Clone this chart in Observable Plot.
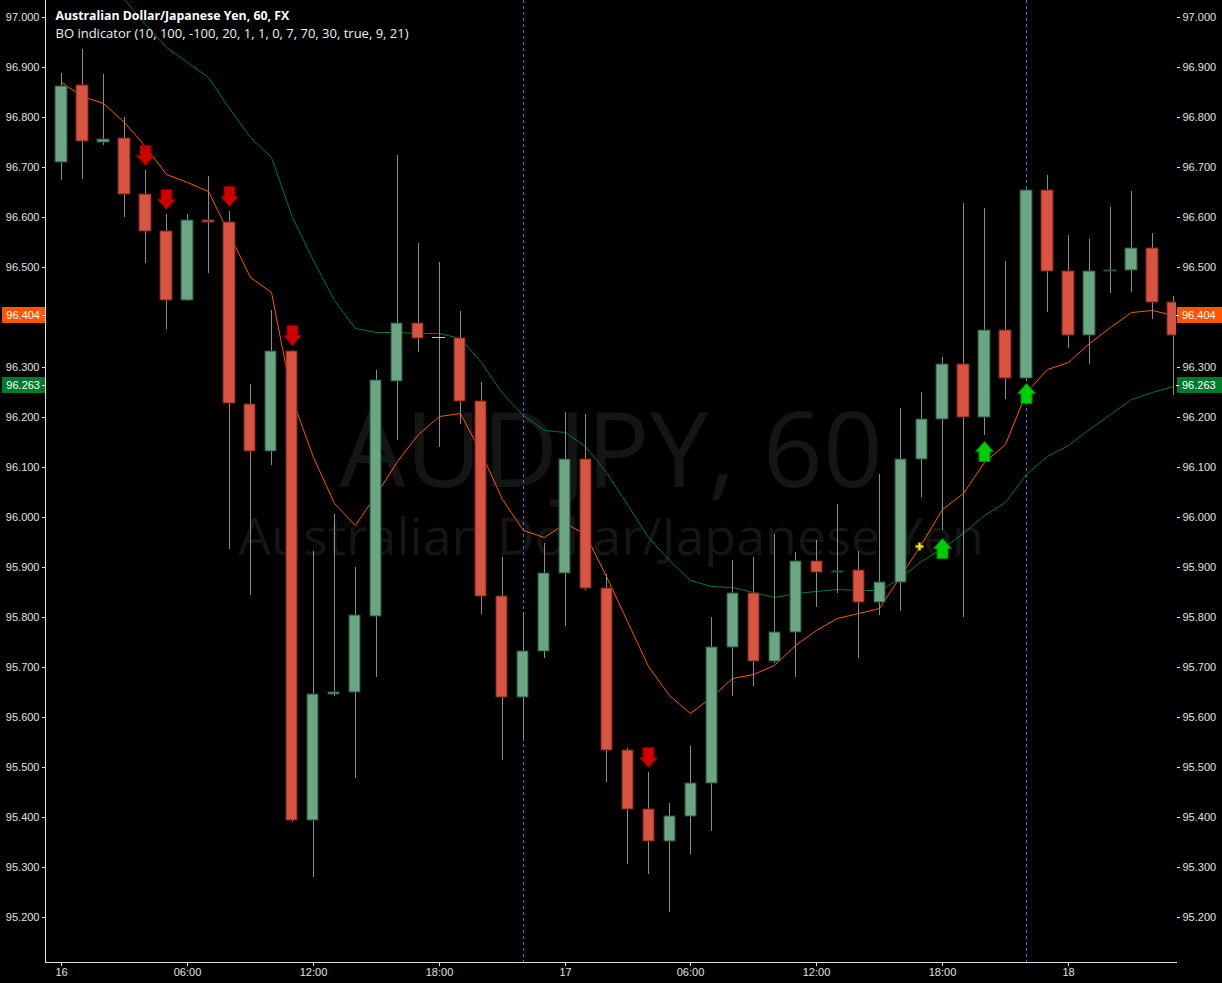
<!DOCTYPE html>
<html><head><meta charset="utf-8">
<script src="https://cdn.jsdelivr.net/npm/d3@7"></script>
<script src="https://cdn.jsdelivr.net/npm/@observablehq/plot@0.6"></script>
<style>
html,body{margin:0;padding:0;background:#000;}
#chart{width:1222px;height:983px;overflow:hidden;}
</style></head><body><div id="chart"></div>
<script>
// ---- data (hourly bars, AUDJPY 60) ----
const openP  = [96.710,96.864,96.750,96.758,96.646,96.572,96.434,96.594,96.590,96.226,96.132,96.332,95.394,95.646,95.651,95.802,96.272,96.388,96.360,96.359,96.232,95.842,95.640,95.732,95.888,96.116,95.858,95.534,95.416,95.352,95.402,95.468,95.740,95.848,95.712,95.770,95.912,95.890,95.894,95.830,95.870,96.116,96.196,96.306,96.200,96.374,96.278,96.654,96.492,96.364,96.492,96.494,96.538,96.430];
const highP  = [96.888,96.936,96.886,96.800,96.694,96.606,96.606,96.682,96.612,96.266,96.414,96.334,95.932,96.006,95.900,96.294,96.724,96.548,96.510,96.412,96.270,95.920,95.810,95.948,96.210,96.206,95.886,95.538,95.490,95.428,95.542,95.800,95.914,95.920,95.966,95.930,95.954,96.026,95.932,96.086,96.218,96.250,96.320,96.628,96.618,96.512,96.656,96.684,96.564,96.556,96.620,96.652,96.568,96.442];
const lowP   = [96.674,96.676,96.744,96.600,96.508,96.376,96.432,96.488,95.936,95.844,96.104,95.390,95.280,95.642,95.478,95.680,96.154,96.330,96.140,96.186,95.806,95.514,95.552,95.718,95.782,95.854,95.470,95.306,95.286,95.210,95.326,95.372,95.642,95.662,95.708,95.680,95.820,95.848,95.718,95.804,95.812,96.040,95.974,95.800,96.164,96.236,96.274,96.410,96.338,96.306,96.448,96.450,96.396,96.244];
const closeP = [96.862,96.752,96.756,96.646,96.572,96.434,96.594,96.590,96.228,96.132,96.332,95.394,95.646,95.651,95.804,96.274,96.388,96.359,96.360,96.232,95.842,95.640,95.732,95.888,96.116,95.858,95.534,95.416,95.352,95.402,95.468,95.740,95.848,95.712,95.770,95.912,95.890,95.893,95.830,95.870,96.116,96.196,96.306,96.200,96.374,96.278,96.654,96.492,96.364,96.492,96.494,96.538,96.430,96.364];
const emaFast = [96.870,96.842,96.828,96.790,96.742,96.686,96.670,96.652,96.566,96.480,96.450,96.236,96.120,96.028,95.984,96.046,96.112,96.166,96.202,96.208,96.128,96.036,95.974,95.960,95.988,95.966,95.882,95.792,95.702,95.644,95.608,95.640,95.678,95.686,95.704,95.744,95.774,95.798,95.808,95.818,95.882,95.946,96.016,96.048,96.110,96.146,96.250,96.296,96.310,96.348,96.380,96.410,96.414,96.404];
const emaSlow = [97.184,97.134,97.084,97.036,96.987,96.940,96.910,96.880,96.818,96.760,96.720,96.600,96.514,96.434,96.378,96.370,96.370,96.369,96.369,96.358,96.310,96.248,96.204,96.174,96.170,96.142,96.090,96.026,95.960,95.914,95.874,95.862,95.860,95.850,95.840,95.848,95.852,95.856,95.854,95.854,95.878,95.912,95.938,95.968,96.004,96.030,96.086,96.122,96.144,96.176,96.206,96.236,96.250,96.262];
const sellIdx = [4, 5, 8, 11, 28];
const sellVal = [96.724, 96.636, 96.642, 96.364, 95.520];
const buyIdx = [42, 44, 46];
const buyVal = [95.938, 96.132, 96.248];
const crossIdx = [41];
const crossVal = [95.942];
const sessionIdx = [22, 46];
const xTickIdx = [0, 6, 12, 18, 24, 30, 36, 42, 48];
const xTickLabels = ["16", "06:00", "12:00", "18:00", "17", "06:00", "12:00", "18:00", "18"];
const yTicks = [95.2, 95.3, 95.4, 95.5, 95.6, 95.7, 95.8, 95.9, 96.0, 96.1, 96.2, 96.3, 96.4, 96.5, 96.6, 96.7, 96.8, 96.9, 97.0];
const lastLabels = [{value: 96.404, color: "#ff5500"}, {value: 96.263, color: "#007a2b"}];
const titleText = "Australian Dollar/Japanese Yen, 60, FX";
const subtitleText = "BO indicator (10, 100, -100, 20, 1, 1, 0, 7, 70, 30, true, 9, 21)";
const watermark1 = "AUDJPY, 60";
const watermark2 = "Australian Dollar/Japanese Yen";

// ---- build tables ----
const bars = openP.map((o, i) => ({i, open: o, high: highP[i], low: lowP[i], close: closeP[i]}));
const fastLine = emaFast.map((v, i) => ({i, v}));
const slowLine = emaSlow.map((v, i) => ({i, v}));
const sells = sellIdx.map((i, k) => ({i, v: sellVal[k]}));
const buys = buyIdx.map((i, k) => ({i, v: buyVal[k]}));
const crosses = crossIdx.map((i, k) => ({i, v: crossVal[k]}));
const xLabelOf = new Map(xTickIdx.map((t, k) => [t, xTickLabels[k]]));

const GREEN = "#6ba583", GREEN_EDGE = "#225437", RED = "#d75442", RED_EDGE = "#7a2218";
const bodyFill = d => d.close > d.open ? GREEN : d.close < d.open ? RED : "#c8c8c8";
const bodyStroke = d => d.close > d.open ? GREEN_EDGE : d.close < d.open ? RED_EDGE : "#c8c8c8";

const arrowDown = {draw(ctx) {
  ctx.moveTo(-5.5, -10); ctx.lineTo(5.5, -10); ctx.lineTo(5.5, 0); ctx.lineTo(9, 0);
  ctx.lineTo(0, 10); ctx.lineTo(-9, 0); ctx.lineTo(-5.5, 0); ctx.closePath();
}};
const arrowUp = {draw(ctx) {
  ctx.moveTo(-5.5, 10); ctx.lineTo(5.5, 10); ctx.lineTo(5.5, 0); ctx.lineTo(9, 0);
  ctx.lineTo(0, -10); ctx.lineTo(-9, 0); ctx.lineTo(-5.5, 0); ctx.closePath();
}};

const axisFont = "Liberation Sans, Arial, sans-serif";
const uiFont = "Open Sans, Noto Sans, sans-serif";

function lastValueBoxes(index, scales, values, dims) {
  const g = d3.create("svg:g").attr("font-family", axisFont).attr("font-size", 11);
  const left = dims.marginLeft, right = dims.width - dims.marginRight;
  for (const lb of lastLabels) {
    const y = Math.round(scales.y(lb.value));
    g.append("rect").attr("x", 2).attr("y", y - 8).attr("width", left - 2).attr("height", 16).attr("fill", lb.color);
    g.append("rect").attr("x", right + 1).attr("y", y - 8).attr("width", dims.width - right - 1).attr("height", 16).attr("fill", lb.color);
    g.append("line").attr("x1", left - 3).attr("x2", left).attr("y1", y + 0.5).attr("y2", y + 0.5).attr("stroke", "#ffffff");
    g.append("line").attr("x1", right).attr("x2", right + 3).attr("y1", y + 0.5).attr("y2", y + 0.5).attr("stroke", "#ffffff");
    g.append("text").attr("x", left - 5).attr("y", y).attr("dy", "0.35em").attr("text-anchor", "end").attr("fill", "#fff").text(lb.value.toFixed(3));
    g.append("text").attr("x", right + 6).attr("y", y).attr("dy", "0.35em").attr("text-anchor", "start").attr("fill", "#fff").text(lb.value.toFixed(3));
  }
  return g.node();
}

const chart = Plot.plot({
  width: 1222,
  height: 983,
  marginLeft: 45,
  marginRight: 46,
  marginTop: 0,
  marginBottom: 21,
  style: {background: "#000", color: "#e0e0e0", fontFamily: axisFont, fontSize: "11px"},
  x: {type: "linear", domain: [-0.7626, 53.146], round: true, ticks: xTickIdx, tickFormat: d => xLabelOf.get(d), tickSize: 4, tickPadding: 2, line: true, label: null},
  y: {domain: [95.11, 97.034], round: true, ticks: yTicks, tickFormat: d => d.toFixed(3), axis: "both", tickSize: 3, tickPadding: 3, line: true, label: null},
  marks: [
    // watermark
    Plot.text([watermark1], {text: d => d, frameAnchor: "top", lineAnchor: "middle", dy: 453, fontSize: 105, fontFamily: uiFont, fill: "#151515"}),
    Plot.text([watermark2], {text: d => d, frameAnchor: "top", lineAnchor: "middle", dy: 538, fontSize: 52, fontFamily: uiFont, fill: "#151515"}),
    // session breaks
    Plot.ruleX(sessionIdx, {x: d => d, stroke: "#4a6fd8", strokeDasharray: "3,3", strokeWidth: 1}),
    // moving averages
    Plot.line(slowLine, {x: "i", y: "v", stroke: "#007a2b", strokeWidth: 1, clip: true}),
    Plot.line(fastLine, {x: "i", y: "v", stroke: "#ff5500", strokeWidth: 1, clip: true}),
    // wicks
    Plot.ruleX(bars, {x: "i", y1: "low", y2: "high", stroke: "#8c8c8c", strokeWidth: 1, clip: true}),
    // bodies
    Plot.rect(bars.filter(d => d.open !== d.close), {x1: d => d.i - 0.27, x2: d => d.i + 0.27, y1: "open", y2: "close", fill: bodyFill, stroke: bodyStroke, strokeWidth: 1, clip: true}),
    Plot.ruleY(bars.filter(d => d.open === d.close), {y: "open", x1: d => d.i - 0.3, x2: d => d.i + 0.3, stroke: "#c8c8c8", strokeWidth: 1, clip: true}),
    // signals
    Plot.dot(sells, {x: "i", y: "v", symbol: arrowDown, r: 5, fill: "#cc0000", stroke: "#800000", strokeWidth: 1}),
    Plot.dot(buys, {x: "i", y: "v", symbol: arrowUp, r: 5, fill: "#00cc00", stroke: "#008a00", strokeWidth: 1}),
    Plot.dot(crosses, {x: "i", y: "v", symbol: "cross", r: 3.2, dx: -2, fill: "#f0f000", stroke: "#8a8a00", strokeWidth: 0.7}),
    // titles
    Plot.text([titleText], {text: d => d, frameAnchor: "top-left", lineAnchor: "middle", dx: 10, dy: 16, textAnchor: "start", fill: "#ffffff", fontWeight: "bold", fontSize: 12.3, fontFamily: uiFont}),
    Plot.text([subtitleText], {text: d => d, frameAnchor: "top-left", lineAnchor: "middle", dx: 10, dy: 33, textAnchor: "start", fill: "#f0f0f0", fontSize: 13, fontFamily: uiFont}),
    // last-value labels on both price axes
    lastValueBoxes
  ]
});
document.getElementById("chart").appendChild(chart);
</script>
</body></html>
